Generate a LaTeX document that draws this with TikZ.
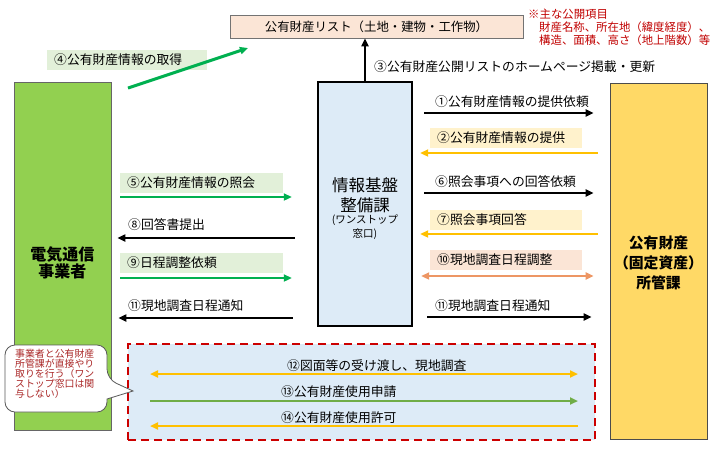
\documentclass[tikz,border=0pt]{standalone}
\usepackage{fontspec}
\setmainfont{Noto Sans CJK JP}
\usetikzlibrary{arrows.meta}
\definecolor{boxgreen}{RGB}{146,208,80}
\definecolor{boxblue}{RGB}{221,235,247}
\definecolor{boxyellow}{RGB}{255,217,102}
\definecolor{lstpeach}{RGB}{251,229,214}
\definecolor{arrgreen}{RGB}{0,176,80}
\definecolor{arrgreen2}{RGB}{112,173,71}
\definecolor{arryellow}{RGB}{255,192,0}
\definecolor{arrorange}{RGB}{237,150,100}
\definecolor{bggreen}{RGB}{226,240,217}
\definecolor{bgyellow}{RGB}{255,242,204}
\definecolor{bgpeach}{RGB}{251,229,214}
\definecolor{dashred}{RGB}{204,0,0}
\definecolor{notered}{RGB}{192,0,0}
\definecolor{callred}{RGB}{170,40,40}
\begin{document}
\begin{tikzpicture}[x=1pt,y=-1pt,
  font=\fontsize{12.8}{15}\selectfont,
  tip/.style={-{Triangle[length=8pt,width=7pt]}},
  tips/.style={{Triangle[length=8pt,width=7pt]}-{Triangle[length=8pt,width=7pt]}},
  blk/.style={tip, line width=2.2pt, black},
  grn/.style={tip, line width=2.6pt, arrgreen},
  ylw/.style={tip, line width=2.6pt, arryellow},
  bigbox/.style={draw, rectangle, align=center, inner sep=0pt},
  lbl/.style={anchor=west, inner sep=0pt},
  lblbox/.style={anchor=west, inner xsep=7pt, inner ysep=0pt, minimum height=20pt, align=left}
]
\useasboundingbox (0,0) rectangle (720,448);

% main boxes
\node[bigbox, fill=boxgreen, draw=black!60, line width=0.8pt, minimum width=97pt, minimum height=348pt] (lb) at (62.5,256) {};
\node[font=\fontsize{16}{17}\selectfont\bfseries, align=center] (lbt) at (62.5,263) {電気通信\\事業者};

\node[bigbox, fill=boxblue, draw=black, line width=2.4pt, minimum width=94pt, minimum height=244pt] (cb) at (365,204) {};
\node[align=center, inner sep=0pt, font=\fontsize{16.5}{20}\selectfont] (cbt) at (365,195) {情報基盤\\整備課};
\node[align=center, inner sep=0pt, font=\fontsize{10.5}{14}\selectfont] (cbs) at (365,227) {(ワンストップ\\窓口)};

\node[bigbox, fill=boxyellow, draw=black!70, line width=0.8pt, minimum width=97pt, minimum height=356pt] (rb) at (658.5,261) {};
\node[font=\fontsize{14.8}{20}\selectfont\bfseries, align=center] (rbt) at (658.5,263) {公有財産\\（固定資産）\\所管課};

% list box
\node[bigbox, fill=lstpeach, draw=black!55, line width=0.8pt, minimum width=293pt, minimum height=23pt, font=\fontsize{12.4}{14}\selectfont] (lst) at (376.5,26.5) {公有財産リスト（土地・建物・工作物）};

% note
\node[anchor=north west, align=left, inner sep=0pt, text=notered, font=\fontsize{11.4}{13}\selectfont] (note) at (528,9)
  {※主な公開項目\\\hspace*{11pt}財産名称、所在地（緯度経度）、\\\hspace*{11pt}構造、面積、高さ（地上階数）等};

% arrow 3 and 4
\draw[blk] (cb.north) -- (lst.south -| cb.north);
\node[lbl] (l3) at (374,67) {③公有財産公開リストのホームページ掲載・更新};
\node[lblbox, fill=bggreen, text width=146pt] (l4) at (47,59.5) {④公有財産情報の取得};
\coordinate (a4s) at (128,88);
\coordinate (a4e) at (248,48);
\draw[grn, line width=3pt] (a4s) -- (a4e);

% right-side arrows
\node[lbl] (l1) at (435,102) {①公有財産情報の提供依頼};
\draw[blk] ([xshift=11pt]cb.east |- 0,113) -- ([xshift=-16pt]rb.west |- 0,113);

\node[lblbox, fill=bgyellow, text width=138pt] (l2) at (430,138) {②公有財産情報の提供};
\draw[ylw] ([xshift=-12pt]rb.west |- 0,153) -- ([xshift=7pt]cb.east |- 0,153);

\node[lbl] (l6) at (435,182) {⑥照会事項への回答依頼};
\draw[blk] ([xshift=11pt]cb.east |- 0,193) -- ([xshift=-16pt]rb.west |- 0,193);

\node[lblbox, fill=bgyellow, text width=138pt] (l7) at (430,219.5) {⑦照会事項回答};
\draw[ylw] ([xshift=-12pt]rb.west |- 0,234) -- ([xshift=7pt]cb.east |- 0,234);

\node[lblbox, fill=bgpeach, text width=138pt] (l10) at (430,260) {⑩現地調査日程調整};
\draw[tips, line width=2.6pt, arrorange] ([xshift=8pt]cb.east |- 0,276) -- ([xshift=-16pt]rb.west |- 0,276);

\node[lbl] (l11r) at (435,306) {⑪現地調査日程通知};
\draw[blk] ([xshift=14pt]cb.east |- 0,317) -- ([xshift=-18pt]rb.west |- 0,317);

% left-side arrows
\node[lblbox, fill=bggreen, text width=149pt] (l5) at (120,183) {⑤公有財産情報の照会};
\draw[grn] ([xshift=9pt]lb.east |- 0,197) -- ([xshift=-25pt]cb.west |- 0,197);

\node[lbl] (l8) at (128,225) {⑧回答書提出};
\draw[blk] ([xshift=-22pt]cb.west |- 0,238) -- ([xshift=6pt]lb.east |- 0,238);

\node[lblbox, fill=bggreen, text width=149pt] (l9) at (120,262.5) {⑨日程調整依頼};
\draw[grn] ([xshift=9pt]lb.east |- 0,278) -- ([xshift=-25pt]cb.west |- 0,278);

\node[lbl] (l11l) at (128,306) {⑪現地調査日程通知};
\draw[blk] ([xshift=-24pt]cb.west |- 0,318) -- ([xshift=7pt]lb.east |- 0,318);

% bottom dashed region
\node[draw=dashred, dash pattern=on 8pt off 5pt, line width=1.8pt, fill=boxblue, rectangle, minimum width=467pt, minimum height=96pt, inner sep=0pt] (bot) at (361.5,392) {};
\coordinate (bl) at (150,0);
\coordinate (br) at (578,0);
\node[lbl] (l12) at (287,366) {⑫図面等の受け渡し、現地調査};
\draw[tips, line width=2.6pt, arryellow] (bl |- 0,374) -- (br |- 0,374);
\node[lbl] (l13) at (281,392) {⑬公有財産使用申請};
\draw[tip, line width=2.6pt, arrgreen2] (bl |- 0,401) -- (br |- 0,401);
\node[lbl] (l14) at (281,418) {⑭公有財産使用許可};
\draw[ylw] (br |- 0,426) -- (bl |- 0,426);

% callout
\draw[draw=black!65, fill=white, line width=0.8pt]
  (5,356) [rounded corners=10pt] -- (5,345) -- (107,345) -- (107,379)
  [sharp corners] -- (133,391) -- (107,399)
  [rounded corners=10pt] -- (107,412) -- (5,412) -- (5,356);
\node[anchor=north west, align=left, inner sep=0pt, text=callred, font=\fontsize{9.9}{10}\selectfont] (call) at (15,349)
  {事業者と公有財産\\所管課が直接やり\\取りを行う（ワン\\ストップ窓口は関\\与しない）};
\end{tikzpicture}
\end{document}
